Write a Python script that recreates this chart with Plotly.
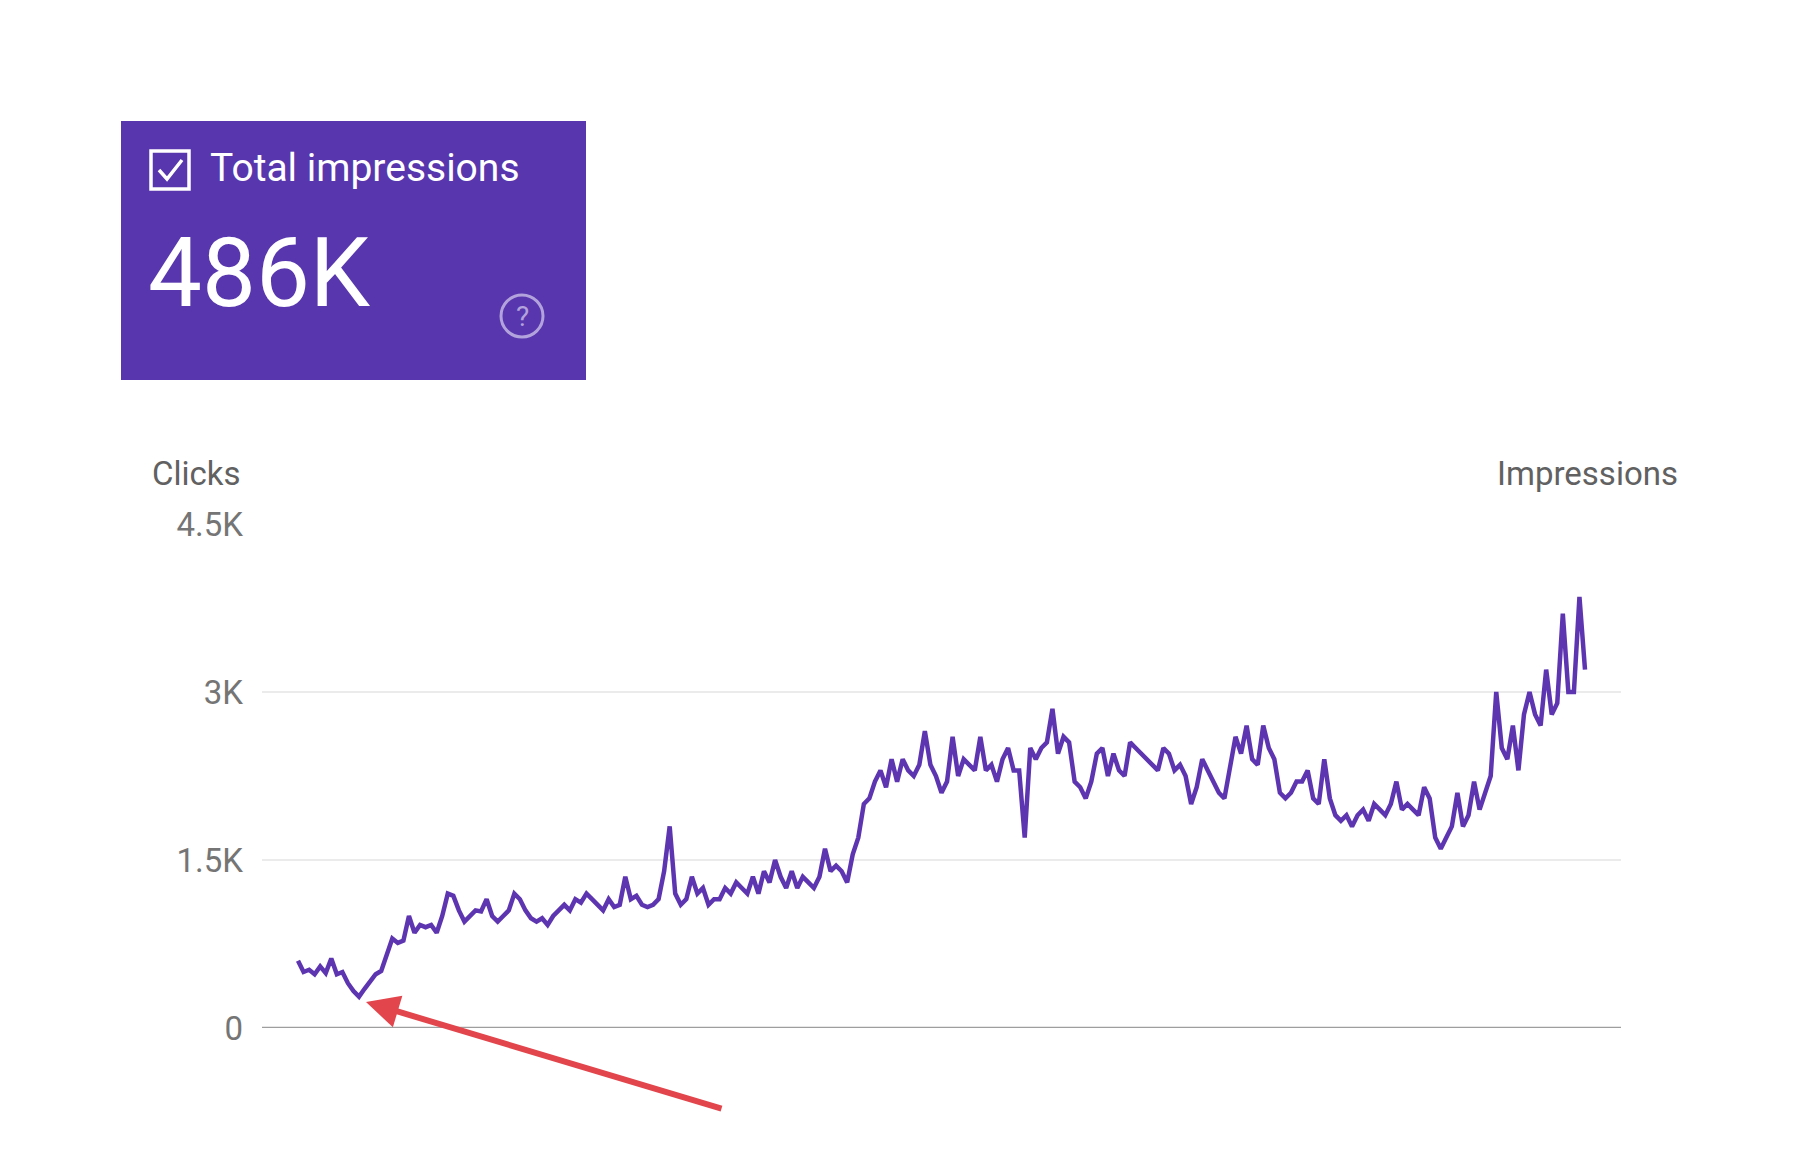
import plotly.graph_objects as go

clicks = [600,500,520,480,550,490,620,480,500,400,330,280,350,420,480,510,650,800,760,780,1000,850,920,900,920,850,1000,1200,1180,1050,950,1000,1050,1040,1150,1000,950,1000,1050,1200,1150,1050,980,950,980,920,1000,1050,1100,1050,1150,1120,1200,1150,1100,1050,1150,1080,1100,1350,1150,1180,1100,1080,1100,1150,1400,1800,1200,1100,1150,1350,1200,1250,1100,1150,1150,1250,1200,1300,1250,1200,1350,1200,1400,1300,1500,1350,1250,1400,1250,1350,1300,1250,1350,1600,1400,1450,1400,1300,1550,1700,2000,2050,2200,2300,2150,2400,2200,2400,2300,2250,2350,2650,2350,2250,2100,2200,2600,2250,2400,2350,2300,2600,2300,2350,2200,2400,2500,2300,2300,1700,2500,2400,2500,2550,2850,2450,2600,2550,2200,2150,2050,2200,2450,2500,2250,2450,2300,2250,2550,2500,2450,2400,2350,2300,2500,2450,2300,2350,2250,2000,2150,2400,2300,2200,2100,2050,2300,2600,2450,2700,2400,2350,2700,2500,2400,2100,2050,2100,2200,2200,2300,2050,2000,2400,2050,1900,1850,1900,1800,1900,1950,1850,2000,1950,1900,2000,2200,1950,2000,1950,1900,2150,2050,1700,1600,1700,1800,2100,1800,1900,2200,1950,2100,2250,3000,2500,2400,2700,2300,2800,3000,2800,2700,3200,2800,2900,3700,3000,3000,3850,3200]
tick_vals = [0, 1500, 3000, 4500]
tick_text = ["0", "1.5K", "3K", "4.5K"]
days = list(range(len(clicks)))

W, H = 1803, 1163
L, R, T, B = 254, 1613, 516, 1020
n = len(clicks)
x0 = 0 - (290 - L) / (1577 - 290) * (n - 1)
x1 = (n - 1) + (R - 1577) / (1577 - 290) * (n - 1)

def px(X): return (X - L) / (R - L)
def py(Y): return (B - Y) / (B - T)

fig = go.Figure(go.Scatter(x=days, y=clicks, mode="lines",
                           line=dict(color="#5e35b1", width=4.5), hoverinfo="skip"))
FONT = "Roboto"
shapes = [
    dict(type="rect", xref="paper", yref="paper", x0=px(113), x1=px(578), y0=py(372), y1=py(113),
         fillcolor="#5836ad", line=dict(width=0), layer="below"),
    dict(type="rect", xref="paper", yref="paper", x0=px(143), x1=px(181), y0=py(181), y1=py(143),
         line=dict(color="white", width=3.5), fillcolor="rgba(0,0,0,0)"),
    dict(type="path", xref="paper", yref="paper",
         path=f"M {px(151)} {py(162)} L {px(159)} {py(171)} L {px(174)} {py(152)}",
         line=dict(color="white", width=3.5)),
    dict(type="circle", xref="paper", yref="paper", x0=px(493), x1=px(535), y0=py(329), y1=py(287),
         line=dict(color="#b3a3dd", width=3)),
    dict(type="line", xref="paper", yref="y", x0=0, x1=1, y0=0, y1=0, line=dict(color="#9e9e9e", width=2.5)),
]
annotations = [
    dict(xref="paper", yref="paper", x=px(200), y=py(160), text="Total impressions", showarrow=False,
         xanchor="left", yanchor="middle", font=dict(family=FONT, size=39, color="white")),
    dict(xref="paper", yref="paper", x=px(138), y=py(265), text="486K", showarrow=False,
         xanchor="left", yanchor="middle", font=dict(family=FONT, size=96, color="white")),
    dict(xref="paper", yref="paper", x=px(514), y=py(309), text="?", showarrow=False,
         xanchor="center", yanchor="middle", font=dict(family=FONT, size=28, color="#b3a3dd")),
    dict(xref="paper", yref="paper", x=px(142), y=py(466), text="Clicks", showarrow=False,
         xanchor="left", yanchor="middle", font=dict(family=FONT, size=33, color="#616161")),
    dict(xref="paper", yref="paper", x=px(1672), y=py(466), text="Impressions", showarrow=False,
         xanchor="right", yanchor="middle", font=dict(family=FONT, size=33, color="#616161")),
    dict(xref="paper", yref="paper", x=px(358), y=py(994), ax=357, ay=107,
         axref="pixel", ayref="pixel", text="", showarrow=True, arrowhead=2, arrowsize=1.1,
         arrowwidth=6, arrowcolor="#e2454b"),
]
fig.update_layout(
    width=W, height=H, paper_bgcolor="white", plot_bgcolor="white",
    margin=dict(l=L, r=W - R, t=T, b=H - B, pad=0),
    showlegend=False, shapes=shapes, annotations=annotations,
    xaxis=dict(range=[x0, x1], showgrid=False, zeroline=False, showticklabels=False, fixedrange=True),
    yaxis=dict(range=[0, 4500], tickvals=tick_vals, ticktext=tick_text, showgrid=True,
               gridcolor="#ebebeb", gridwidth=2, zeroline=False, ticks="", ticklabelstandoff=18,
               tickfont=dict(family=FONT, size=33, color="#757575")),
)
fig.write_html("out.html")
